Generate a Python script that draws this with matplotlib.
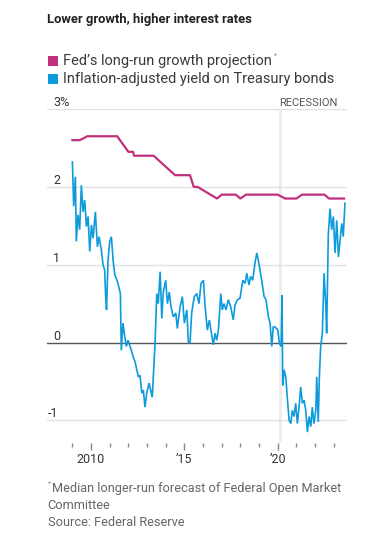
import matplotlib
matplotlib.use("Agg")
import matplotlib.pyplot as plt
import matplotlib.transforms as mtransforms
from matplotlib.patches import Rectangle

# ---------------- data ----------------
fed_years = [2009.0, 2009.4, 2009.8, 2011.4, 2012.0, 2012.25, 2012.3, 2013.35, 2014.5,
             2015.3, 2015.5, 2015.7, 2016.75, 2017.0, 2017.75, 2018.0, 2018.3, 2020.0,
             2020.4, 2021.0, 2021.3, 2022.5, 2022.75, 2023.55]
fed_values = [2.6, 2.6, 2.65, 2.65, 2.45, 2.45, 2.4, 2.4, 2.15,
              2.15, 2.0, 2.0, 1.85, 1.9, 1.9, 1.85, 1.9, 1.9,
              1.85, 1.85, 1.9, 1.9, 1.85, 1.85]

tips_years = [
    2009.00, 2009.07, 2009.16, 2009.21, 2009.30, 2009.39, 2009.48, 2009.57, 2009.66, 2009.75,
    2009.84, 2009.93, 2010.02, 2010.11, 2010.23, 2010.34, 2010.43, 2010.55, 2010.64, 2010.73,
    2010.78, 2010.83, 2010.91, 2011.00, 2011.09, 2011.18, 2011.27, 2011.39, 2011.48, 2011.57,
    2011.62, 2011.71, 2011.81, 2011.89, 2011.98, 2012.16, 2012.25, 2012.36, 2012.53, 2012.62,
    2012.72, 2012.80, 2012.89, 2012.98, 2013.11, 2013.21, 2013.28, 2013.43, 2013.52, 2013.60,
    2013.70, 2013.79, 2013.87, 2014.00, 2014.09, 2014.19, 2014.28, 2014.41, 2014.54, 2014.62,
    2014.77, 2014.89, 2015.00, 2015.13, 2015.21, 2015.30, 2015.39, 2015.53, 2015.66, 2015.78,
    2015.89, 2016.02, 2016.11, 2016.23, 2016.34, 2016.46, 2016.55, 2016.64, 2016.73, 2016.82,
    2016.95, 2017.03, 2017.12, 2017.23, 2017.35, 2017.48, 2017.62, 2017.71, 2017.84, 2017.98,
    2018.13, 2018.25, 2018.34, 2018.46, 2018.55, 2018.66, 2018.78, 2018.88, 2018.96, 2019.05,
    2019.14, 2019.27, 2019.37, 2019.50, 2019.59, 2019.68, 2019.76, 2019.86, 2020.00, 2020.09,
    2020.18, 2020.23, 2020.27, 2020.34, 2020.43, 2020.51, 2020.61, 2020.70, 2020.78, 2020.87,
    2020.96, 2021.05, 2021.14, 2021.23, 2021.32, 2021.41, 2021.50, 2021.59, 2021.68, 2021.77,
    2021.85, 2021.94, 2022.04, 2022.09, 2022.17, 2022.23, 2022.30, 2022.39, 2022.48, 2022.57,
    2022.62, 2022.71, 2022.80, 2022.89, 2022.98, 2023.07, 2023.16, 2023.25, 2023.34, 2023.43,
    2023.51, 2023.60]
tips_values = [
    2.32, 1.75, 2.13, 1.30, 1.64, 1.45, 2.02, 1.68, 1.83, 1.49,
    1.62, 1.17, 1.51, 1.34, 1.68, 1.23, 1.36, 1.19, 1.00, 0.93,
    0.60, 0.42, 1.06, 1.30, 1.36, 1.06, 0.87, 0.80, 0.72, 0.63,
    -0.10, 0.25, 0.07, -0.05, 0.03, -0.10, -0.18, -0.25, -0.44, -0.42,
    -0.65, -0.61, -0.83, -0.65, -0.52, -0.63, -0.70, 0.01, 0.63, 0.50,
    0.91, 0.31, 0.65, 0.80, 0.50, 0.65, 0.46, 0.33, 0.38, 0.18,
    0.46, 0.59, 0.25, 0.42, 0.01, -0.01, 0.38, 0.59, 0.63, 0.50,
    0.76, 0.80, 0.46, 0.16, 0.29, 0.10, -0.03, 0.12, 0.03, 0.16,
    0.63, 0.42, 0.50, 0.42, 0.55, 0.46, 0.29, 0.48, 0.55, 0.57,
    0.80, 0.76, 0.89, 0.74, 0.85, 0.80, 1.02, 1.15, 1.06, 0.93,
    0.80, 0.59, 0.55, 0.33, 0.25, -0.05, 0.20, 0.20, 0.16, -0.01,
    -0.05, 0.61, -0.55, -0.35, -0.44, -0.70, -1.00, -1.04, -0.87, -0.95,
    -0.78, -1.04, -0.83, -0.57, -0.78, -0.74, -0.87, -1.15, -0.95, -1.08,
    -0.83, -1.04, -0.87, -0.44, -1.02, -0.44, -0.05, 0.12, 0.89, 0.50,
    0.12, 1.40, 1.72, 1.45, 1.62, 1.15, 1.57, 1.10, 1.32, 1.53,
    1.36, 1.79]

y_ticks = [3, 2, 1, 0, -1]
y_labels = ["3%", "2", "1", "0", "-1"]
x_major = [2010, 2015, 2020]
x_major_labels = ["2010", "\u201915", "\u201920"]
x_minor = list(range(2009, 2024))
recession = (2020.05, 2020.25)

title = "Lower growth, higher interest rates"
legend_labels = ["Fed\u2019s long-run growth projection", "Inflation-adjusted yield on Treasury bonds"]
foot_lines = ["Median longer-run forecast of Federal Open Market", "Committee", "Source: Federal Reserve"]

MAGENTA = "#c1307a"
BLUE = "#0e9bdc"
TEXT = "#333333"
GREY = "#666666"

W, H = 378, 545
fig = plt.figure(figsize=(W / 100, H / 100), dpi=100)
fig.patch.set_facecolor("white")

def fx(px):
    return px / W

def fy(py):
    return 1 - py / H

ax = fig.add_axes([fx(47), fy(443), fx(347) - fx(47), fy(109) - fy(443)])
ax.set_xlim(2007.64, 2023.71)
ax.set_ylim(-1.29, 3.0)
for s in ax.spines.values():
    s.set_visible(False)
ax.set_facecolor("none")

# recession band
ax.axvspan(recession[0], recession[1], color="#ededed", zorder=0, lw=0)

for t in y_ticks:
    if t == 0:
        ax.axhline(t, color="#555555", lw=1.0, zorder=1)
    else:
        ax.axhline(t, color="#e2e2e2", lw=1.0, zorder=1)

ax.plot(fed_years, fed_values, color=MAGENTA, lw=1.6, zorder=3, solid_joinstyle="round")
ax.plot(tips_years, tips_values, color=BLUE, lw=1.2, zorder=3, solid_joinstyle="miter")

ax.set_yticks([])
ax.set_xticks(x_major)
ax.set_xticklabels(x_major_labels)
ax.set_xticks(x_minor, minor=True)
ax.tick_params(axis="x", which="major", length=5, width=1, color="#888888",
               labelsize=9, labelcolor=TEXT, pad=2.5)
ax.tick_params(axis="x", which="minor", length=3, width=1, color="#888888")
for lab in ax.get_xticklabels():
    lab.set_fontfamily("Roboto")

# y labels above gridlines
trans = mtransforms.blended_transform_factory(fig.transFigure, ax.transData)
for t, lab in zip(y_ticks, y_labels):
    xpos = fx(53) if not lab.startswith("-") else fx(48)
    ax.text(xpos, t, lab, transform=trans,
            ha="left", va="bottom", fontsize=9, color=TEXT, family="Roboto")

ax.text(recession[0], 3.0, "RECESSION",
        transform=ax.transData + mtransforms.ScaledTranslation(0, 1.0 / 72, fig.dpi_scale_trans),
        ha="left", va="bottom", fontsize=8, color="#555555", family="Roboto")

# title
fig.text(fx(47), fy(19.5), title, ha="left", va="center", fontsize=9.4, fontweight="bold",
         color="#222222", family="Roboto")

# legend
for i, (lab, col) in enumerate(zip(legend_labels, [MAGENTA, BLUE])):
    yc = 61 + i * 18
    fig.patches.append(Rectangle((fx(47.5), fy(yc + 5.3)), fx(10.5), fy(0) - fy(10.5),
                                 transform=fig.transFigure, color=col, lw=0))
    fig.text(fx(63), fy(yc), lab, ha="left", va="center", fontsize=10.5, color="#3a3a3a",
             family="Roboto")
fig.text(fx(274), fy(56.5), "*", ha="left", va="center", fontsize=5, color="#888888", family="Roboto")

# footnote
fig.text(fx(47.5), fy(484.5), "*", ha="left", va="center", fontsize=5, color="#888888", family="Roboto")
for i, line in enumerate(foot_lines):
    x0 = 51.5 if i == 0 else 47.5
    fig.text(fx(x0), fy(488.5 + i * 17), line, ha="left", va="center", fontsize=9.2,
             color=GREY, family="Roboto")

fig.savefig("out.png", dpi=100, facecolor="white")
